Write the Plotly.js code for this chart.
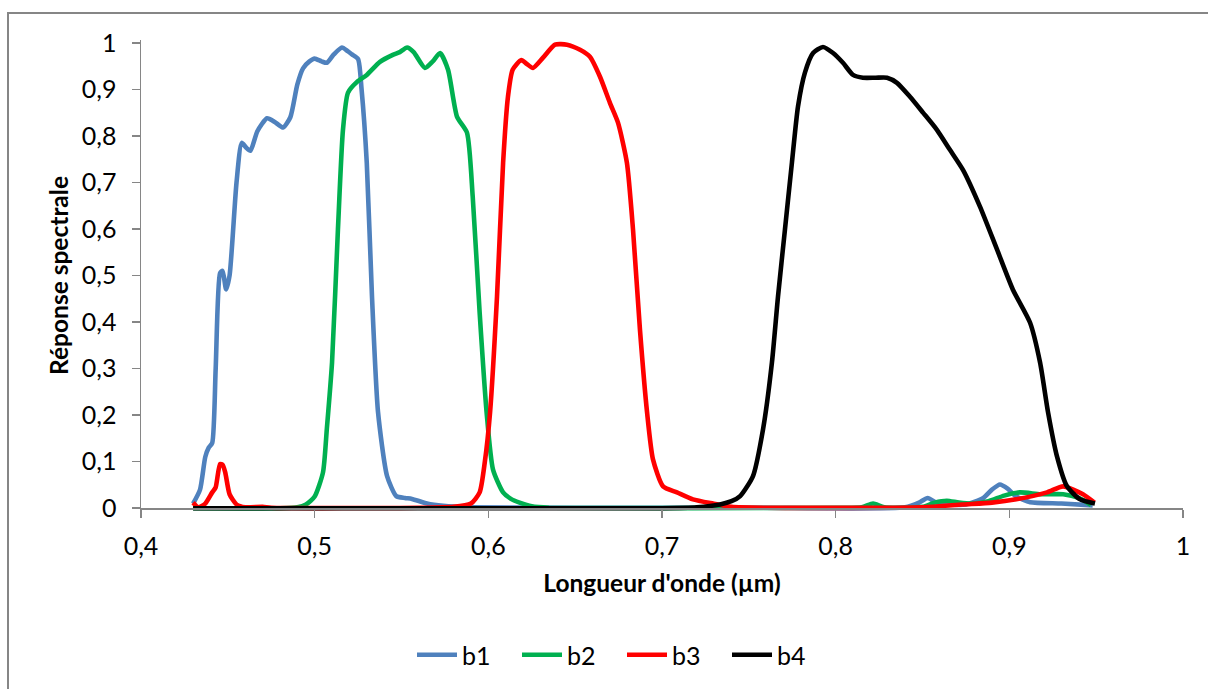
<!DOCTYPE html>
<html>
<head>
<meta charset="utf-8">
<script src="https://cdn.plot.ly/plotly-3.0.1.min.js"></script>
<style>html,body{margin:0;padding:0;background:#fff;}#chart{width:1208px;height:689px;}</style>
</head>
<body>
<div id="chart"></div>
<script>
// Series names
const seriesNames = ["b1", "b2", "b3", "b4"];
const seriesColors = ["#4F81BD", "#00B050", "#FF0000", "#000000"];

// b1
const b1_x = [0.430,0.434,0.437,0.439,0.441,0.443,0.4455,0.447,0.449,0.451,0.455,0.458,0.4605,0.463,0.467,0.4726,0.477,0.4818,0.486,0.490,0.4933,0.497,0.500,0.504,0.507,0.511,0.5157,0.519,0.5215,0.525,0.527,0.530,0.533,0.5365,0.5417,0.547,0.552,0.556,0.5647,0.574,0.590,0.650,0.750,0.840,0.848,0.853,0.858,0.865,0.875,0.885,0.890,0.8946,0.899,0.904,0.912,0.930,0.948];
const b1_y = [0.010,0.040,0.110,0.130,0.140,0.300,0.505,0.510,0.470,0.500,0.700,0.785,0.775,0.768,0.810,0.838,0.830,0.818,0.840,0.910,0.945,0.960,0.966,0.960,0.957,0.975,0.990,0.982,0.975,0.965,0.900,0.742,0.455,0.206,0.069,0.026,0.022,0.020,0.010,0.005,0.002,0.001,0.001,0.002,0.012,0.022,0.012,0.008,0.008,0.022,0.040,0.051,0.042,0.025,0.013,0.010,0.006];

// b2
const b2_x = [0.430,0.480,0.490,0.495,0.500,0.5048,0.507,0.510,0.5134,0.5163,0.5192,0.5244,0.530,0.5376,0.545,0.549,0.5532,0.557,0.5635,0.568,0.5722,0.5768,0.582,0.5877,0.591,0.595,0.599,0.6027,0.6085,0.613,0.618,0.625,0.635,0.800,0.815,0.8215,0.828,0.850,0.857,0.864,0.871,0.879,0.888,0.897,0.906,0.918,0.931,0.940,0.947];
const b2_y = [0.000,0.000,0.002,0.008,0.025,0.077,0.170,0.313,0.599,0.813,0.893,0.916,0.931,0.959,0.974,0.980,0.990,0.980,0.946,0.960,0.978,0.942,0.841,0.807,0.670,0.420,0.206,0.083,0.034,0.020,0.012,0.004,0.001,0.001,0.002,0.010,0.002,0.003,0.012,0.016,0.012,0.010,0.015,0.027,0.034,0.030,0.030,0.022,0.007];

// b3
const b3_x = [0.430,0.433,0.437,0.441,0.443,0.4455,0.447,0.4485,0.451,0.455,0.460,0.470,0.475,0.560,0.580,0.590,0.595,0.598,0.601,0.605,0.6085,0.6113,0.614,0.619,0.622,0.6257,0.6315,0.6384,0.6453,0.6528,0.6585,0.6643,0.670,0.6747,0.6798,0.6833,0.6873,0.6914,0.6948,0.7006,0.7086,0.7178,0.7294,0.740,0.760,0.850,0.873,0.890,0.904,0.9217,0.931,0.9424,0.949];
const b3_y = [0.012,0.002,0.010,0.034,0.045,0.095,0.093,0.077,0.030,0.008,0.002,0.003,0.001,0.001,0.003,0.010,0.034,0.100,0.206,0.455,0.742,0.884,0.942,0.963,0.955,0.946,0.968,0.996,0.996,0.985,0.970,0.927,0.871,0.828,0.742,0.599,0.384,0.206,0.105,0.047,0.034,0.019,0.010,0.003,0.001,0.002,0.008,0.012,0.019,0.034,0.047,0.030,0.012];

// b4
const b4_x = [0.430,0.700,0.720,0.7334,0.740,0.745,0.7524,0.7582,0.7633,0.7668,0.7708,0.7748,0.7783,0.7823,0.787,0.7927,0.7985,0.8042,0.810,0.8157,0.823,0.8296,0.8353,0.8428,0.8503,0.8583,0.8658,0.8733,0.8831,0.8929,0.902,0.9119,0.9177,0.9223,0.9274,0.9332,0.9407,0.9493];
const b4_y = [0.000,0.000,0.002,0.008,0.015,0.026,0.069,0.170,0.313,0.455,0.599,0.742,0.863,0.936,0.978,0.991,0.978,0.957,0.931,0.925,0.925,0.925,0.914,0.884,0.850,0.813,0.770,0.727,0.648,0.556,0.470,0.399,0.313,0.206,0.112,0.047,0.019,0.010];

// Axis ticks
const xTickVals = [0.4,0.5,0.6,0.7,0.8,0.9,1];
const xTickText = ["0,4","0,5","0,6","0,7","0,8","0,9","1"];
const yTickVals = [0,0.1,0.2,0.3,0.4,0.5,0.6,0.7,0.8,0.9,1];
const yTickText = ["0","0,1","0,2","0,3","0,4","0,5","0,6","0,7","0,8","0,9","1"];

const xs = [b1_x, b2_x, b3_x, b4_x];
const ys = [b1_y, b2_y, b3_y, b4_y];

const FONT = "Lato, 'Open Sans', sans-serif";
const traces = seriesNames.map((n, i) => ({
  x: xs[i], y: ys[i], name: n, type: "scatter", mode: "lines",
  line: {color: seriesColors[i], width: 4.6, shape: "spline", smoothing: 0.6}
}));

const W = 1208, H = 689;
const mL = 141, mR = 25, mT = 40, mB = 177;
const pw = W - mL - mR, ph = H - mT - mB;
const yPad = 0.006;
const yR = [-yPad, 1 + yPad];
function px2paperX(px) { return (px - mL) / pw; }
function px2paperY(py) { return (H - mB - py) / ph; }
const zeroPaper = yPad / (1 + 2 * yPad);

const layout = {
  width: W, height: H,
  margin: {l: mL, r: mR, t: mT, b: mB, pad: 0},
  paper_bgcolor: "#ffffff", plot_bgcolor: "#ffffff",
  font: {family: FONT, size: 25, color: "#000000"},
  showlegend: true,
  legend: {orientation: "h", x: px2paperX(622), xanchor: "center", y: px2paperY(655), yanchor: "middle",
           font: {family: FONT, size: 25, color: "#000"}, traceorder: "normal", itemwidth: 40,
           entrywidth: 50, entrywidthmode: "pixels"},
  xaxis: {
    range: [0.4, 1], tickvals: xTickVals, ticktext: xTickText,
    anchor: "free", position: zeroPaper,
    showline: true, linecolor: "#868686", linewidth: 1.5,
    ticks: "outside", ticklen: 8, tickcolor: "#868686", tickwidth: 1.5,
    showgrid: false, zeroline: false, ticklabelstandoff: 7,
    tickfont: {family: FONT, size: 25, color: "#000"},
    title: {text: "<b>Longueur d'onde (µm)</b>", font: {family: FONT, size: 24.5, color: "#000"}, standoff: 16}
  },
  yaxis: {
    range: yR, tickvals: yTickVals, ticktext: yTickText,
    showline: true, linecolor: "#868686", linewidth: 1.5,
    ticks: "outside", ticklen: 8, tickcolor: "#868686", tickwidth: 1.5,
    showgrid: false, zeroline: false, ticklabelstandoff: 10,
    tickfont: {family: FONT, size: 25, color: "#000"},
    title: {text: "<b>Réponse spectrale</b>", font: {family: FONT, size: 24.5, color: "#000"}, standoff: 6}
  },
  shapes: [
    {type: "rect", xref: "paper", yref: "paper",
     x0: px2paperX(8), x1: px2paperX(1240), y0: px2paperY(720), y1: px2paperY(13),
     line: {color: "#868686", width: 2}, fillcolor: "rgba(0,0,0,0)", layer: "below"}
  ]
};

Plotly.newPlot("chart", traces, layout, {displayModeBar: false, staticPlot: true});
</script>
</body>
</html>
